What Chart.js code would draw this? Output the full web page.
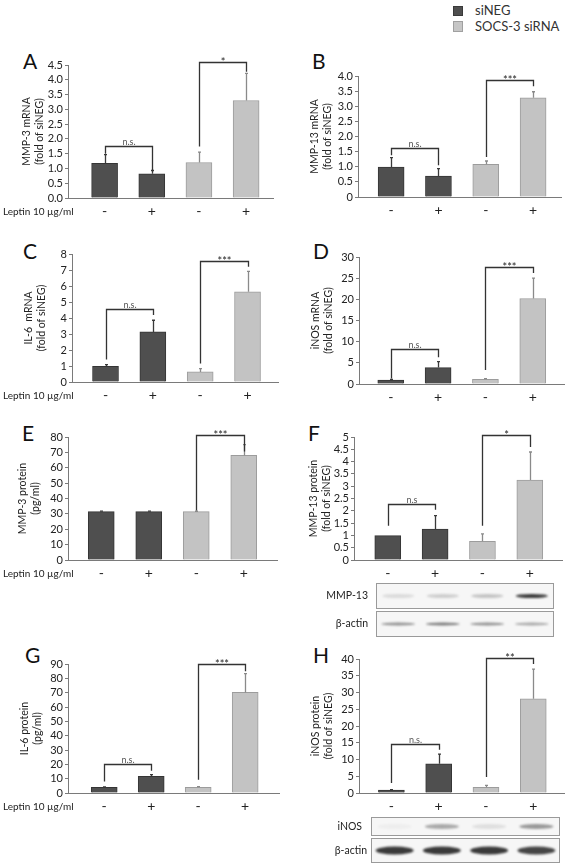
<!DOCTYPE html>
<html>
<head>
<meta charset="utf-8">
<script src="https://cdn.jsdelivr.net/npm/chart.js@4.4.1/dist/chart.umd.min.js"></script>
<style>
  body { margin: 0; width: 567px; height: 864px; position: relative; overflow: hidden; background: #fff; font-family: Lato, "Open Sans", sans-serif; color: #222; }
  canvas { position: absolute; }
  .letter { position: absolute; font-size: 21px; line-height: 21px; color: #111; }
  .key { position: absolute; width: 10px; height: 10px; box-sizing: border-box; }
  .keytext { position: absolute; font-size: 13px; line-height: 14px; color: #333; }
</style>
</head>
<body>

<div class="key" style="left:453px;top:6px;background:#4f4f4f;border:1px solid #3a3a3a"></div>
<div class="keytext" style="left:475px;top:3px">siNEG</div>
<div class="key" style="left:453px;top:21px;height:11px;background:#c6c6c6;border:1px solid #a0a0a0"></div>
<div class="keytext" style="left:475px;top:19px">SOCS-3 siRNA</div>

<div class="letter" style="left:23px;top:50px">A</div>
<div class="letter" style="left:312px;top:50px">B</div>
<div class="letter" style="left:23px;top:240px">C</div>
<div class="letter" style="left:313px;top:240px">D</div>
<div class="letter" style="left:22px;top:422px">E</div>
<div class="letter" style="left:308px;top:422px">F</div>
<div class="letter" style="left:25px;top:644px">G</div>
<div class="letter" style="left:313px;top:644px">H</div>

<script>
// ---- shared categories ----
const leptinLabels = ["-", "+", "-", "+"];
const groupNames = ["siNEG", "SOCS-3 siRNA"];
const barGroup = [0, 0, 1, 1];

// ---- A: MMP-3 mRNA ----
const mmp3Mrna = [1.17, 0.82, 1.20, 3.30];
const mmp3MrnaErr = [0.30, 0.11, 0.35, 0.92];
const mmp3MrnaTicks = ["0.0", "0.5", "1.0", "1.5", "2.0", "2.5", "3.0", "3.5", "4.0", "4.5"];
// [from bar, to bar, bracket top, left leg end, right leg end, label]
const mmp3MrnaSig = [[0, 1, 1.77, 1.50, 0.95, "n.s."], [2, 3, 4.59, 1.74, 4.27, "*"]];

// ---- B: MMP-13 mRNA ----
const mmp13Mrna = [0.99, 0.69, 1.08, 3.28];
const mmp13MrnaErr = [0.31, 0.25, 0.11, 0.20];
const mmp13MrnaTicks = ["0", "0.5", "1.0", "1.5", "2.0", "2.5", "3.0", "3.5", "4.0"];
const mmp13MrnaSig = [[0, 1, 1.62, 1.38, 1.05, "n.s."], [2, 3, 3.88, 1.32, 3.66, "***"]];

// ---- C: IL-6 mRNA ----
const il6Mrna = [0.98, 3.13, 0.63, 5.64];
const il6MrnaErr = [0.11, 0.73, 0.21, 1.27];
const il6MrnaTicks = ["0", "1", "2", "3", "4", "5", "6", "7", "8"];
const il6MrnaSig = [[0, 1, 4.55, 1.40, 4.18, "n.s."], [2, 3, 7.58, 1.15, 7.20, "***"]];

// ---- D: iNOS mRNA ----
const inosMrna = [0.95, 3.87, 1.10, 20.2];
const inosMrnaErr = [0.15, 1.40, 0.16, 4.80];
const inosMrnaTicks = ["0", "5", "10", "15", "20", "25", "30"];
const inosMrnaSig = [[0, 1, 8.2, 1.3, 6.3, "n.s."], [2, 3, 27.7, 3.3, 26.2, "***"]];

// ---- E: MMP-3 protein ----
const mmp3Prot = [31.5, 31.5, 31.5, 68.0];
const mmp3ProtErr = [0.3, 0.3, 0.2, 7.0];
const mmp3ProtTicks = ["0", "10", "20", "30", "40", "50", "60", "70", "80"];
const mmp3ProtSig = [[2, 3, 81.5, 32.2, 70.6, "***"]];

// ---- F: MMP-13 protein ----
const mmp13Prot = [0.99, 1.26, 0.76, 3.25];
const mmp13ProtErr = [0, 0.54, 0.30, 1.14];
const mmp13ProtTicks = ["0", "0.5", "1", "1.5", "2", "2.5", "3", "3.5", "4", "4.5", "5"];
const mmp13ProtSig = [[0, 1, 2.28, 1.39, 2.04, "n.s"], [2, 3, 5.10, 1.39, 4.59, "*"]];
const mmp13Bands = [0.12, 0.18, 0.22, 0.85];
const mmp13ActinBands = [0.45, 0.55, 0.45, 0.35];

// ---- G: IL-6 protein ----
const il6Prot = [3.95, 11.6, 3.95, 70.2];
const il6ProtErr = [0.3, 1.2, 0.5, 13.1];
const il6ProtTicks = ["0", "10", "20", "30", "40", "50", "60", "70", "80", "90"];
const il6ProtSig = [[0, 1, 20.2, 8.1, 15.6, "n.s."], [2, 3, 90.0, 9.3, 84.9, "***"]];

// ---- H: iNOS protein ----
const inosProt = [0.90, 8.70, 1.70, 28.1];
const inosProtErr = [0.10, 2.90, 0.60, 8.90];
const inosProtTicks = ["0", "5", "10", "15", "20", "25", "30", "35", "40"];
const inosProtSig = [[0, 1, 14.7, 3.0, 12.9, "n.s."], [2, 3, 40.2, 4.8, 38.5, "**"]];
const inosBands = [0.04, 0.35, 0.10, 0.42];
const inosActinBands = [0.85, 0.85, 0.85, 0.80];

const fills = ["#4f4f4f", "#c3c3c3"];
const edges = ["#353535", "#9c9c9c"];
const errColors = ["#3a3a3a", "#8a8a8a"];
const FONT = "Lato, 'Open Sans', sans-serif";

// error bars, brackets, leptin label and blots
const extrasPlugin = {
    id: "extras",
    afterDatasetsDraw(chart, args, opts) {
        const ctx = chart.ctx;
        const xs = chart.scales.x, ys = chart.scales.y;
        ctx.save();

        // error bars (upper only)
        opts.values.forEach((v, i) => {
            if (!opts.err[i]) return;
            const x = Math.round(xs.getPixelForValue(i)) + 0.5;
            const y0 = ys.getPixelForValue(v);
            const y1 = ys.getPixelForValue(v + opts.err[i]);
            ctx.strokeStyle = errColors[barGroup[i]];
            ctx.lineWidth = 1.3;
            ctx.beginPath();
            ctx.moveTo(x, y0);
            ctx.lineTo(x, y1);
            ctx.moveTo(x - 1.5, y1);
            ctx.lineTo(x + 1.5, y1);
            ctx.stroke();
        });

        // significance brackets
        ctx.strokeStyle = "#333";
        ctx.lineWidth = 1.3;
        opts.sig.forEach(s => {
            const xa = Math.round(xs.getPixelForValue(s[0])) + 0.5;
            const xb = Math.round(xs.getPixelForValue(s[1])) + 0.5;
            const yt = Math.round(ys.getPixelForValue(s[2])) + 0.5;
            ctx.beginPath();
            ctx.moveTo(xa, ys.getPixelForValue(s[3]));
            ctx.lineTo(xa, yt);
            ctx.lineTo(xb, yt);
            ctx.lineTo(xb, ys.getPixelForValue(s[4]));
            ctx.stroke();
            const ns = s[5].startsWith("n");
            ctx.fillStyle = ns ? "#555" : "#222";
            ctx.font = (ns ? "9px " : "11px ") + FONT;
            ctx.textAlign = "center";
            ctx.textBaseline = "alphabetic";
            ctx.fillText(s[5], (xa + xb) / 2, yt - (ns ? 2 : -3));
        });

        // treatment row label
        if (opts.leptin) {
            ctx.fillStyle = "#222";
            ctx.font = "10px " + FONT;
            ctx.textAlign = "left";
            ctx.textBaseline = "middle";
            ctx.fillText("Leptin 10 \u00b5g/ml", 3, chart.chartArea.bottom + 14);
        }

        // western blot strip
        if (opts.blot) {
            const b = opts.blot;
            const laneW = (b.x1 - b.x0) / 4;
            b.rows.forEach(r => {
                ctx.filter = "none";
                ctx.fillStyle = "#f6f6f6";
                ctx.fillRect(b.x0, r.y0, b.x1 - b.x0, r.h);
                ctx.strokeStyle = "#9a9a9a";
                ctx.lineWidth = 1;
                ctx.strokeRect(b.x0 + 0.5, r.y0 + 0.5, b.x1 - b.x0 - 1, r.h - 1);
                ctx.fillStyle = "#222";
                ctx.font = "10.5px " + FONT;
                ctx.textAlign = "right";
                ctx.textBaseline = "middle";
                ctx.fillText(r.label, r.lx, r.y0 + r.h / 2);
                ctx.filter = "blur(1.2px)";
                r.bands.forEach((a, i) => {
                    const cx = b.x0 + laneW * (i + 0.5);
                    ctx.fillStyle = "rgba(25,25,25," + a + ")";
                    ctx.beginPath();
                    ctx.ellipse(cx, r.y0 + r.h / 2, r.bw / 2, r.bh / 2, 0, 0, Math.PI * 2);
                    ctx.fill();
                });
            });
            ctx.filter = "none";
        }
        ctx.restore();
    }
};

function makePanel(p) {
    const cl = p.col ? 290 : 0;
    const padTop = 30, xh = 24;
    const [l, t, r, btm] = p.area;
    const canvas = document.createElement("canvas");
    canvas.width = r + 4 - cl;
    canvas.height = padTop + (btm - t) + xh + p.padBottom;
    canvas.style.left = cl + "px";
    canvas.style.top = (t - padTop) + "px";
    document.body.appendChild(canvas);

    let blot = null;
    if (p.blot) {
        blot = {
            x0: p.blot.x0 - cl, x1: p.blot.x1 - cl,
            rows: p.blot.rows.map(row => Object.assign({}, row, { y0: row.y0 - (t - padTop), lx: row.lx - cl }))
        };
    }

    return new Chart(canvas, {
        type: "bar",
        data: {
            datasets: [{
                label: p.title.join(" "),
                data: p.values.map((v, i) => ({ x: i, y: v })),
                backgroundColor: barGroup.map(g => fills[g]),
                borderColor: barGroup.map(g => edges[g]),
                borderWidth: 1,
                barThickness: 26
            }]
        },
        options: {
            responsive: false,
            animation: false,
            layout: { padding: { top: padTop, right: 4, bottom: p.padBottom, left: 0 } },
            plugins: {
                legend: { display: false },
                tooltip: { enabled: false },
                extras: { values: p.values, err: p.err, sig: p.sig, leptin: !p.col, blot: blot }
            },
            scales: {
                x: {
                    type: "linear",
                    offset: false,
                    min: p.xr[0],
                    max: p.xr[1],
                    grid: { display: false, drawTicks: false },
                    border: { color: "#7a7a7a", width: 1 },
                    afterBuildTicks: s => { s.ticks = leptinLabels.map((_, i) => ({ value: i })); },
                    afterFit: s => { s.height = xh; },
                    ticks: {
                        autoSkip: false, maxRotation: 0, padding: 5,
                        color: "#222", font: { family: FONT, size: 14 },
                        callback: (v, i) => leptinLabels[i]
                    }
                },
                y: {
                    min: 0,
                    max: p.yMax,
                    grid: { display: true, drawOnChartArea: false, drawTicks: true, tickLength: 3, color: "#7a7a7a" },
                    border: { color: "#7a7a7a", width: 1 },
                    afterFit: s => { s.width = l - cl; },
                    ticks: {
                        stepSize: p.step, padding: 2, autoSkip: false,
                        color: "#222", font: { family: FONT, size: 11 },
                        callback: (v, i) => p.ticks[i]
                    },
                    title: {
                        display: true, text: p.title, color: "#222",
                        font: { family: FONT, size: 10.5, lineHeight: 1.15 },
                        padding: { top: p.tp, bottom: 0 }
                    }
                }
            }
        },
        plugins: [extrasPlugin]
    });
}

makePanel({ col: 0, area: [68, 65, 273, 198], xr: [-0.776, 3.57], yMax: 4.5, step: 0.5, ticks: mmp3MrnaTicks,
    values: mmp3Mrna, err: mmp3MrnaErr, sig: mmp3MrnaSig, title: ["MMP-3 mRNA", "(fold of siNEG)"], tp: 21, padBottom: 4 });
makePanel({ col: 1, area: [358, 76, 561, 197], xr: [-0.70, 3.59], yMax: 4.0, step: 0.5, ticks: mmp13MrnaTicks,
    values: mmp13Mrna, err: mmp13MrnaErr, sig: mmp13MrnaSig, title: ["MMP-13 mRNA", "(fold of siNEG)"], tp: 19, padBottom: 4 });
makePanel({ col: 0, area: [72, 254, 278, 382], xr: [-0.708, 3.644], yMax: 8, step: 1, ticks: il6MrnaTicks,
    values: il6Mrna, err: il6MrnaErr, sig: il6MrnaSig, title: ["IL-6  mRNA", "(fold of siNEG)"], tp: 23, padBottom: 4 });
makePanel({ col: 1, area: [359, 257, 564, 384], xr: [-0.671, 3.66], yMax: 30, step: 5, ticks: inosMrnaTicks,
    values: inosMrna, err: inosMrnaErr, sig: inosMrnaSig, title: ["iNOS mRNA", "(fold of siNEG)"], tp: 20, padBottom: 4 });
makePanel({ col: 0, area: [68, 437, 277, 560], xr: [-0.70, 3.70], yMax: 80, step: 10, ticks: mmp3ProtTicks,
    values: mmp3Prot, err: mmp3ProtErr, sig: mmp3ProtSig, title: ["MMP-3 protein", "(pg/ml)"], tp: 17, padBottom: 4 });
makePanel({ col: 1, area: [354, 437, 562, 560], xr: [-0.713, 3.68], yMax: 5, step: 0.5, ticks: mmp13ProtTicks,
    values: mmp13Prot, err: mmp13ProtErr, sig: mmp13ProtSig, title: ["MMP-13 protein", "(fold of siNEG)"], tp: 18, padBottom: 56,
    blot: { x0: 376, x1: 554, rows: [
        { label: "MMP-13", lx: 368, y0: 583, h: 26, bands: mmp13Bands, bw: 32, bh: 4 },
        { label: "\u03b2-actin", lx: 368, y0: 611, h: 26, bands: mmp13ActinBands, bw: 34, bh: 3 }
    ] } });
makePanel({ col: 0, area: [68, 664, 279, 793], xr: [-0.771, 3.72], yMax: 90, step: 10, ticks: il6ProtTicks,
    values: il6Prot, err: il6ProtErr, sig: il6ProtSig, title: ["IL-6 protein", "(pg/ml)"], tp: 19, padBottom: 4 });
makePanel({ col: 1, area: [359, 659, 564, 793], xr: [-0.685, 3.65], yMax: 40, step: 5, ticks: inosProtTicks,
    values: inosProt, err: inosProtErr, sig: inosProtSig, title: ["iNOS protein", "(fold of siNEG)"], tp: 20, padBottom: 47,
    blot: { x0: 371, x1: 560, rows: [
        { label: "iNOS", lx: 362, y0: 817, h: 19, bands: inosBands, bw: 34, bh: 5 },
        { label: "\u03b2-actin", lx: 367, y0: 838, h: 25, bands: inosActinBands, bw: 38, bh: 8 }
    ] } });
</script>
</body>
</html>
